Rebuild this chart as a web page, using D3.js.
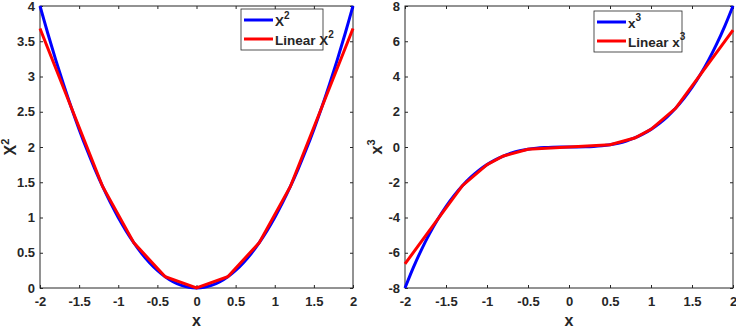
<!DOCTYPE html>
<html>
<head>
<meta charset="utf-8">
<script src="https://cdn.jsdelivr.net/npm/d3@7"></script>
<style>
  body { margin: 0; background: #fff; }
  text { font-family: "Liberation Sans", Arial, sans-serif; font-weight: bold; fill: #262626; }
</style>
</head>
<body>
<svg id="chart" width="736" height="329"></svg>
<script>
// sample points of the smooth curves (x step 0.1)
var xs = [-2,-1.9,-1.8,-1.7,-1.6,-1.5,-1.4,-1.3,-1.2,-1.1,-1,-0.9,-0.8,-0.7,-0.6,-0.5,-0.4,-0.3,-0.2,-0.1,0,
          0.1,0.2,0.3,0.4,0.5,0.6,0.7,0.8,0.9,1,1.1,1.2,1.3,1.4,1.5,1.6,1.7,1.8,1.9,2];
var sq = [4,3.61,3.24,2.89,2.56,2.25,1.96,1.69,1.44,1.21,1,0.81,0.64,0.49,0.36,0.25,0.16,0.09,0.04,0.01,0,
          0.01,0.04,0.09,0.16,0.25,0.36,0.49,0.64,0.81,1,1.21,1.44,1.69,1.96,2.25,2.56,2.89,3.24,3.61,4];
var cube = [-8,-6.859,-5.832,-4.913,-4.096,-3.375,-2.744,-2.197,-1.728,-1.331,-1,-0.729,-0.512,-0.343,-0.216,-0.125,-0.064,-0.027,-0.008,-0.001,0,
            0.001,0.008,0.027,0.064,0.125,0.216,0.343,0.512,0.729,1,1.331,1.728,2.197,2.744,3.375,4.096,4.913,5.832,6.859,8];

// piecewise linear approximations
var linSqX = [-2,-1.6,-1.2,-0.8,-0.4,0,0.4,0.8,1.2,1.6,2];
var linSqY = [3.68,2.56,1.44,0.64,0.16,0,0.16,0.64,1.44,2.56,3.68];
var linCuX = [-2,-1.6,-1.3,-1,-0.8,-0.5,0,0.5,0.8,1,1.3,1.6,2];
var linCuY = [-6.63,-4.096,-2.197,-1,-0.512,-0.125,0,0.125,0.512,1,2.197,4.096,6.63];

var xTicks = [-2,-1.5,-1,-0.5,0,0.5,1,1.5,2];
var sqTicks = [0,0.5,1,1.5,2,2.5,3,3.5,4];
var cuTicks = [-8,-6,-4,-2,0,2,4,6,8];

var svg = d3.select('#chart');

function panel(opt) {
  var w = opt.right - opt.left, h = opt.bottom - opt.top;
  var x = d3.scaleLinear().domain([-2, 2]).range([0, w]);
  var y = d3.scaleLinear().domain(opt.ydom).range([h, 0]);
  var g = svg.append('g').attr('transform', 'translate(' + opt.left + ',' + opt.top + ')');

  var fmt = function(d) { return String(d); };
  var ax = function(axis) {
    return function(sel) {
      sel.call(axis);
      sel.select('.domain').remove();
      sel.selectAll('line').attr('stroke', '#262626');
      sel.selectAll('text').style('font-size', '13px').style('font-family', '"Liberation Sans", Arial, sans-serif')
        .style('font-weight', 'bold').attr('fill', '#262626');
    };
  };
  g.append('g').attr('transform', 'translate(0,' + h + ')')
    .call(ax(d3.axisBottom(x).tickValues(xTicks).tickFormat(fmt).tickSizeInner(-3).tickSizeOuter(0).tickPadding(9)));
  g.append('g')
    .call(ax(d3.axisTop(x).tickValues(xTicks).tickFormat('').tickSizeInner(-3).tickSizeOuter(0)));
  g.append('g')
    .call(ax(d3.axisLeft(y).tickValues(opt.yticks).tickFormat(fmt).tickSizeInner(-3).tickSizeOuter(0).tickPadding(5)));
  g.append('g').attr('transform', 'translate(' + w + ',0)')
    .call(ax(d3.axisRight(y).tickValues(opt.yticks).tickFormat('').tickSizeInner(-3).tickSizeOuter(0)));

  g.append('rect').attr('width', w).attr('height', h)
    .attr('fill', 'none').attr('stroke', '#262626').attr('stroke-width', 1);

  var line = d3.line().x(function(d) { return x(d[0]); }).y(function(d) { return y(d[1]); });
  g.append('path').attr('d', line.curve(d3.curveCatmullRom)(d3.zip(xs, opt.curve)))
    .attr('fill', 'none').attr('stroke', '#0000ff').attr('stroke-width', 3);
  g.append('path').attr('d', line.curve(d3.curveLinear)(d3.zip(opt.linX, opt.linY)))
    .attr('fill', 'none').attr('stroke', '#ff0000').attr('stroke-width', 3);

  // legend
  var lg = g.append('g').attr('transform', 'translate(' + (opt.leg[0] - opt.left) + ',' + (opt.leg[1] - opt.top) + ')');
  lg.append('rect').attr('width', opt.leg[2]).attr('height', 41)
    .attr('fill', '#fff').attr('stroke', '#262626').attr('stroke-width', 0.8);
  [[opt.names[0], '#0000ff', 11], [opt.names[1], '#ff0000', 30]].forEach(function(it) {
    lg.append('line').attr('x1', 3).attr('x2', 32).attr('y1', it[2]).attr('y2', it[2])
      .attr('stroke', it[1]).attr('stroke-width', 3);
    var t = lg.append('text').attr('x', 34).attr('y', it[2] + 6).style('font-size', '13.5px');
    t.append('tspan').text(it[0]);
    t.append('tspan').attr('dy', -7).style('font-size', '10px').text(opt.sup);
  });

  // axis labels
  svg.append('text').attr('x', opt.left + w / 2).attr('y', 326).attr('text-anchor', 'middle')
    .style('font-size', '16px').text('x');
  var yl = svg.append('text').attr('transform', 'translate(' + opt.ylx + ',' + (opt.top + h / 2) + ') rotate(-90)')
    .attr('text-anchor', 'middle').style('font-size', '16px');
  yl.append('tspan').text(opt.ylab);
  yl.append('tspan').attr('dy', -7).style('font-size', '11px').text(opt.sup);
}

panel({ left: 40, right: 353, top: 6, bottom: 288, ydom: [0, 4], yticks: sqTicks,
        curve: sq, linX: linSqX, linY: linSqY, leg: [241, 9, 82],
        names: ['X', 'Linear X'], sup: '2', ylab: 'X', ylx: 16 });
panel({ left: 405, right: 733, top: 6, bottom: 288, ydom: [-8, 8], yticks: cuTicks,
        curve: cube, linX: linCuX, linY: linCuY, leg: [594, 11, 88],
        names: ['x', 'Linear x'], sup: '3', ylab: 'x', ylx: 382 });
</script>
</body>
</html>
